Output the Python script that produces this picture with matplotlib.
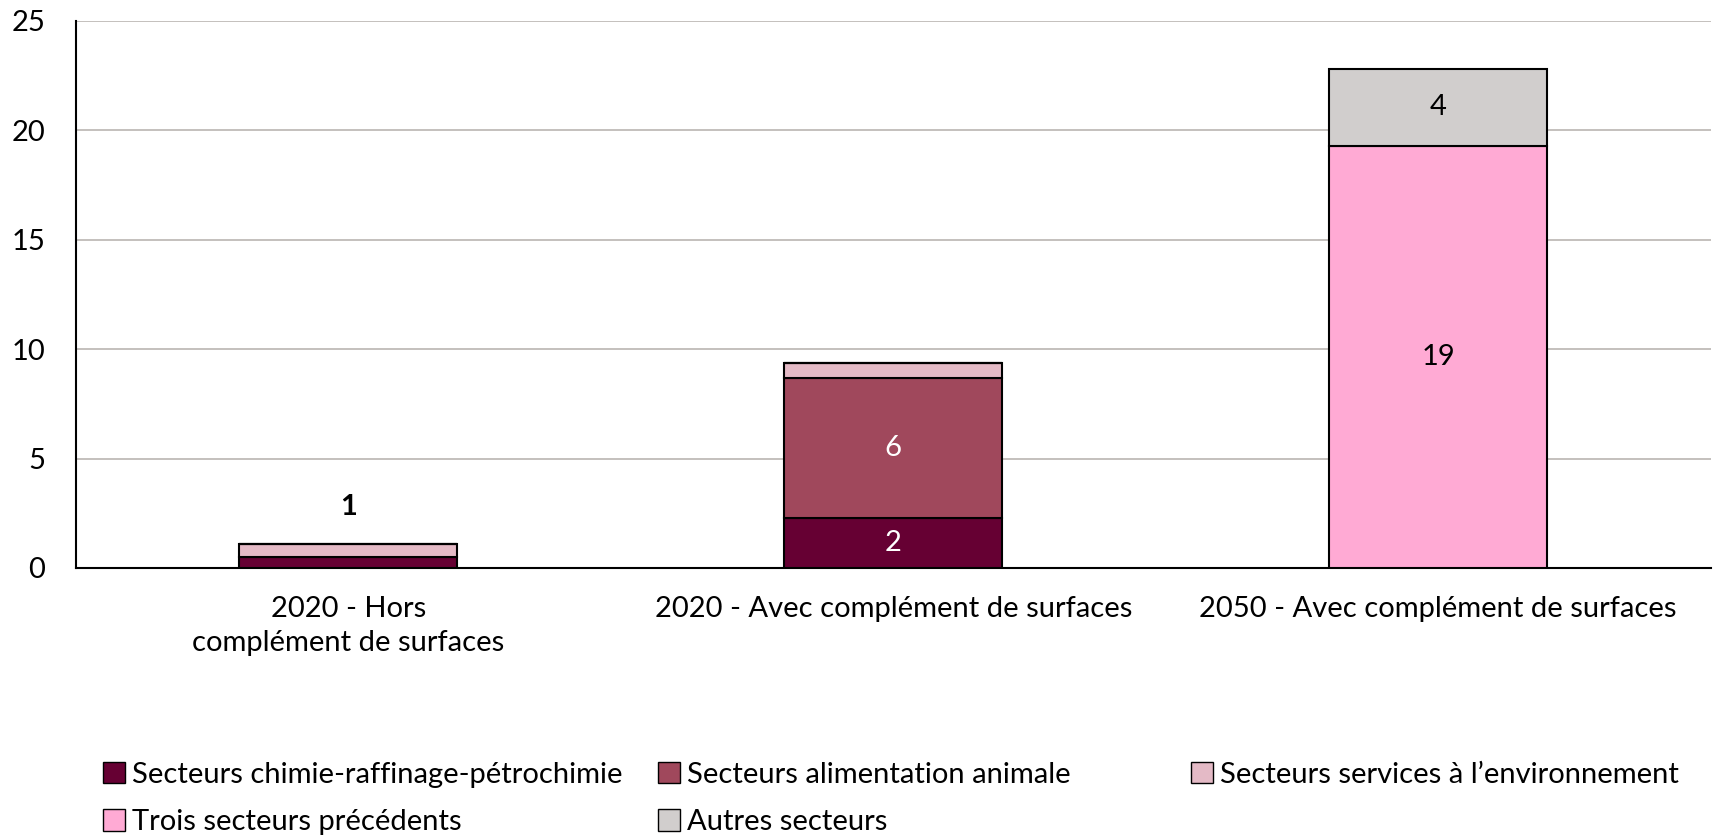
import numpy as np
import matplotlib.pyplot as plt
from matplotlib.patches import Patch

plt.rcParams['font.family'] = ['Lato', 'DejaVu Sans']

categories = ["2020 - Hors\ncomplément de surfaces",
              "2020 - Avec complément de surfaces",
              "2050 - Avec complément de surfaces"]
series_names = ["Secteurs chimie-raffinage-pétrochimie",
                "Secteurs alimentation animale",
                "Secteurs services à l\u2019environnement",
                "Trois secteurs précédents",
                "Autres secteurs"]
chimie = [0.5, 2.3, 0.0]
alimentation = [0.0, 6.4, 0.0]
environnement = [0.6, 0.65, 0.0]
trois = [0.0, 0.0, 19.3]
autres = [0.0, 0.0, 3.5]
seg_labels = [[None, "2", None],
              [None, "6", None],
              [None, None, None],
              [None, None, "19"],
              [None, None, "4"]]
total_labels = ["1", None, None]
colors = ["#660033", "#A0485C", "#E4BAC6", "#FFAAD4", "#D1CECD"]
text_colors = ["white", "white", "black", "black", "black"]

FS = 21

fig = plt.figure(figsize=(17.14, 8.36), dpi=100)
ax = fig.add_axes([0.0443, 0.3206, 0.9537, 0.6545])

x = np.arange(len(categories))
bottom = np.zeros(len(categories))
for i, vals in enumerate([chimie, alimentation, environnement, trois, autres]):
    vals = np.array(vals)
    ax.bar(x, vals, 0.40, bottom=bottom, color=colors[i],
           edgecolor="black", linewidth=1.5, zorder=3)
    for j, lab in enumerate(seg_labels[i]):
        if lab:
            ax.text(x[j], bottom[j] + vals[j] / 2, lab, ha="center", va="center",
                    color=text_colors[i], fontsize=FS, zorder=4)
    bottom += vals

for j, lab in enumerate(total_labels):
    if lab:
        ax.text(x[j], 2.8, lab, ha="center", va="center",
                fontsize=FS, fontweight="bold", zorder=4)

ax.set_xlim(-0.5, 2.5)
ax.set_ylim(0, 25)
ax.set_yticks(range(0, 26, 5))
ax.set_xticks(x)
ax.set_xticklabels(categories, fontsize=FS, linespacing=1.37)
ax.tick_params(axis="y", labelsize=FS, length=0, pad=22)
ax.tick_params(axis="x", length=0, pad=20)
ax.grid(axis="y", color="#BFBBB7", linewidth=1.3, zorder=0)
for s in ["top", "right"]:
    ax.spines[s].set_visible(False)
ax.spines["left"].set_linewidth(1.5)
ax.spines["bottom"].set_linewidth(1.5)

# legend: three equal-width columns, filled row by row
handles = [Patch(facecolor=c, edgecolor="black", linewidth=1.0) for c in colors]
col_x = [0.060, 0.384, 0.695]
columns = [[0, 3], [1, 4], [2]]
for cx, idx in zip(col_x, columns):
    fig.legend([handles[k] for k in idx], [series_names[k] for k in idx],
               loc="upper left", bbox_to_anchor=(cx, 0.089),
               ncol=1, frameon=False, fontsize=FS, handlelength=0.75,
               handleheight=0.75, handletextpad=0.25, labelspacing=0.74,
               borderpad=0, borderaxespad=0)

fig.savefig("out.png", dpi=100)
